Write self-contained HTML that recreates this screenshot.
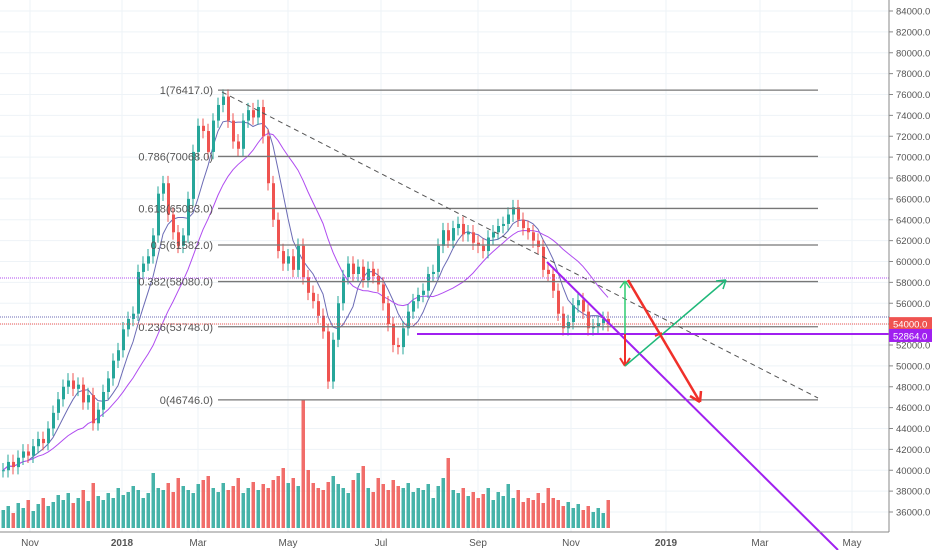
<!DOCTYPE html>
<html><head><meta charset="utf-8"><style>
body{margin:0;background:#fff;font-family:"Liberation Sans",sans-serif}
svg{display:block}
text{font-family:"Liberation Sans",sans-serif}
</style></head><body>
<svg id="c" width="932" height="550">
<g id="grid"></g><g id="vol"></g><g id="ma"></g><g id="candles"></g><g id="draw"></g><g id="axis"></g>
</svg>
<script>
const closes=[40000,40800,40300,41200,41800,41400,42300,43000,42600,44000,45500,46800,48000,48600,47800,48200,46500,47200,44500,45800,47500,48800,50500,51500,53500,54500,55000,59000,59800,60500,62500,66500,67500,64500,62800,61500,62500,66000,70500,73000,72500,70500,73500,75000,75800,73500,71500,70800,73500,74500,73800,74800,72000,67500,64000,61000,59800,60500,59200,61500,58500,57000,56200,54800,53300,48500,52500,56000,58500,59800,58800,59500,58200,59300,58600,57800,56000,54000,52000,51800,53600,55200,56200,56800,57200,58800,59000,61500,63000,62000,63200,63600,62600,62800,61800,61500,61000,62300,62800,63400,63600,64500,65200,64000,63200,62800,62000,61400,59200,58800,57200,55000,53600,54200,55800,56300,55200,53600,53800,54100,54500,54000];
const volumes=[18,22,15,25,20,28,17,24,30,22,26,33,28,35,25,30,38,27,45,32,28,35,30,40,33,36,42,38,30,35,55,40,38,45,36,50,42,38,35,44,48,52,40,36,45,38,42,50,35,40,46,38,44,40,48,52,60,45,50,42,128,58,45,40,38,46,52,44,40,35,48,55,62,40,36,50,44,38,48,42,40,45,36,40,38,44,30,42,50,70,38,35,40,32,36,30,34,40,28,36,32,44,30,38,26,30,28,35,25,40,30,28,22,26,20,24,18,22,16,20,15,28];
const priceTicks=[84000,82000,80000,78000,76000,74000,72000,70000,68000,66000,64000,62000,60000,58000,56000,54000,52000,50000,48000,46000,44000,42000,40000,38000,36000];
const monthLabels=["Nov","2018","Mar","May","Jul","Sep","Nov","2019","Mar","May"];
const monthIndex=[5.6,24,39.2,57.2,75.8,95.2,113.8,132.8,151.6,170];
const fibLevels=[76417,70068,65083,61582,58080,53748,46746];
const fibNames=["1","0.786","0.618","0.5","0.382","0.236","0"];
const NS="http://www.w3.org/2000/svg";
const y=v=>11+(84000-v)*0.0104375;
const x=i=>2+i*5;
function el(p,t,a){const e=document.createElementNS(NS,t);for(const k in a)e.setAttribute(k,a[k]);p.appendChild(e);return e;}
const G=id=>document.getElementById(id);
for(const t of priceTicks){const l=el(G('grid'),'line',{x1:0,x2:889,y1:y(t),y2:y(t),stroke:'#eef3f7'});

}
monthIndex.forEach(m=>{const l=el(G('grid'),'line',{x1:x(m),x2:x(m),y1:0,y2:532,stroke:'#eef3f7'});

});
const n=Math.min(closes.length,volumes.length);
for(let i=0;i<n;i++){const o=i?closes[i-1]:closes[0];const up=closes[i]>=o;
const r=el(G('vol'),'rect',{x:x(i)-0.5,y:528-volumes[i],width:3.5,height:volumes[i],fill:up?'#26a69a':'#ef5350',opacity:0.85});

}
function ma(p){return closes.map((c,i)=>{const s=closes.slice(Math.max(0,i-p+1),i+1);return s.reduce((a,b)=>a+b,0)/s.length;});}
[[6,'#6b6bb5'],[17,'#b04cf0']].forEach(([p,col])=>{const m=ma(p);
const pl=el(G('ma'),'polyline',{points:m.map((v,i)=>x(i)+1+','+y(v)).join(' '),fill:'none',stroke:col,'stroke-width':1});

});
for(let i=0;i<closes.length;i++){const o=i?closes[i-1]:closes[0],c=closes[i];const up=c>=o;const col=up?'#26a69a':'#ef5350';
const hi=Math.max(o,c)+700,lo=Math.min(o,c)-700;
const w=el(G('candles'),'line',{x1:x(i)+1,x2:x(i)+1,y1:y(hi),y2:y(lo),stroke:col,'stroke-width':1});


const b=el(G('candles'),'rect',{x:x(i),y:y(Math.max(o,c)),width:3,height:Math.max(1,Math.abs(y(o)-y(c))),fill:col});

}
fibLevels.forEach((v,k)=>{const l=el(G('draw'),'line',{x1:218,x2:818,y1:y(v),y2:y(v),stroke:'#777','stroke-width':1.3});


const t=el(G('draw'),'text',{x:213,y:y(v)+4,'text-anchor':'end','font-size':11,fill:'#555'});t.textContent=fibNames[k]+'('+v+'.0)';

});
const D=G('draw');
function L(a,name){const l=el(D,'line',a);}
L({x1:222,y1:92,x2:818,y2:398,stroke:'#555','stroke-dasharray':'5,4'},'trend-line-dashed');
L({x1:0,x2:889,y1:278,y2:278,stroke:'#b04cf0','stroke-dasharray':'1,1'},'resistance-dotted');
L({x1:0,x2:889,y1:317,y2:317,stroke:'#6b6bb5','stroke-dasharray':'1,1'},'ma-price-dotted');
L({x1:0,x2:889,y1:324,y2:324,stroke:'#ef5350','stroke-dasharray':'1,1'},'last-price-dotted');
L({x1:417,x2:889,y1:334,y2:334,stroke:'#a020f0','stroke-width':2},'support-line');
L({x1:547,y1:262,x2:838,y2:550,stroke:'#a020f0','stroke-width':2},'down-trend-line');
L({x1:625,y1:334,x2:625,y2:281,stroke:'#2ecc71','stroke-width':1.5},'green-arrow-up');
L({x1:620,y1:288,x2:625,y2:281,stroke:'#2ecc71','stroke-width':1.5},'arrowhead');
L({x1:630,y1:288,x2:625,y2:281,stroke:'#2ecc71','stroke-width':1.5},'arrowhead');
L({x1:625,y1:334,x2:625,y2:366,stroke:'#f0302a','stroke-width':2},'red-arrow-down');
L({x1:620,y1:358,x2:625,y2:366,stroke:'#f0302a','stroke-width':2},'arrowhead');
L({x1:630,y1:358,x2:625,y2:366,stroke:'#f0302a','stroke-width':2},'arrowhead');
L({x1:625,y1:366,x2:726,y2:280,stroke:'#1fb87a','stroke-width':1.5},'green-arrow-diag');
L({x1:716,y1:281,x2:726,y2:280,stroke:'#1fb87a','stroke-width':1.5},'arrowhead');
L({x1:723,y1:289,x2:726,y2:280,stroke:'#1fb87a','stroke-width':1.5},'arrowhead');
L({x1:628,y1:280,x2:700,y2:402,stroke:'#f0302a','stroke-width':2.5},'red-arrow-big');
L({x1:690,y1:396,x2:700,y2:402,stroke:'#f0302a','stroke-width':2.5},'arrowhead');
L({x1:701,y1:391,x2:700,y2:402,stroke:'#f0302a','stroke-width':2.5},'arrowhead');
L({x1:655,y1:336,x2:662,y2:333,stroke:'#f0302a','stroke-width':2},'arrowhead');
const A=G('axis');
L({x1:889,x2:889,y1:0,y2:532,stroke:'#888'},'y-axis-line');
L({x1:0,x2:889,y1:532,y2:532,stroke:'#888'},'x-axis-line');
priceTicks.forEach(t=>{const l=el(A,'line',{x1:889,x2:893,y1:y(t),y2:y(t),stroke:'#888'});


const tx=el(A,'text',{x:896,y:y(t)+3.5,'font-size':9.5,fill:'#555'});tx.textContent=t+'.0';

});
monthLabels.forEach((m,k)=>{const tx=el(A,'text',{x:x(monthIndex[k]),y:546,'text-anchor':'middle','font-size':10,fill:'#555','font-weight':m.length==4?'bold':'normal'});tx.textContent=m;

});
[[54000,'#ef5350'],[52864,'#a020f0']].forEach(([v,c])=>{const r=el(A,'rect',{x:889,y:y(v)-7,width:43,height:13,fill:c});


const tx=el(A,'text',{x:893,y:y(v)+3.5,'font-size':9.5,fill:'#fff'});tx.textContent=v+'.0';

});
</script>
</body></html>
